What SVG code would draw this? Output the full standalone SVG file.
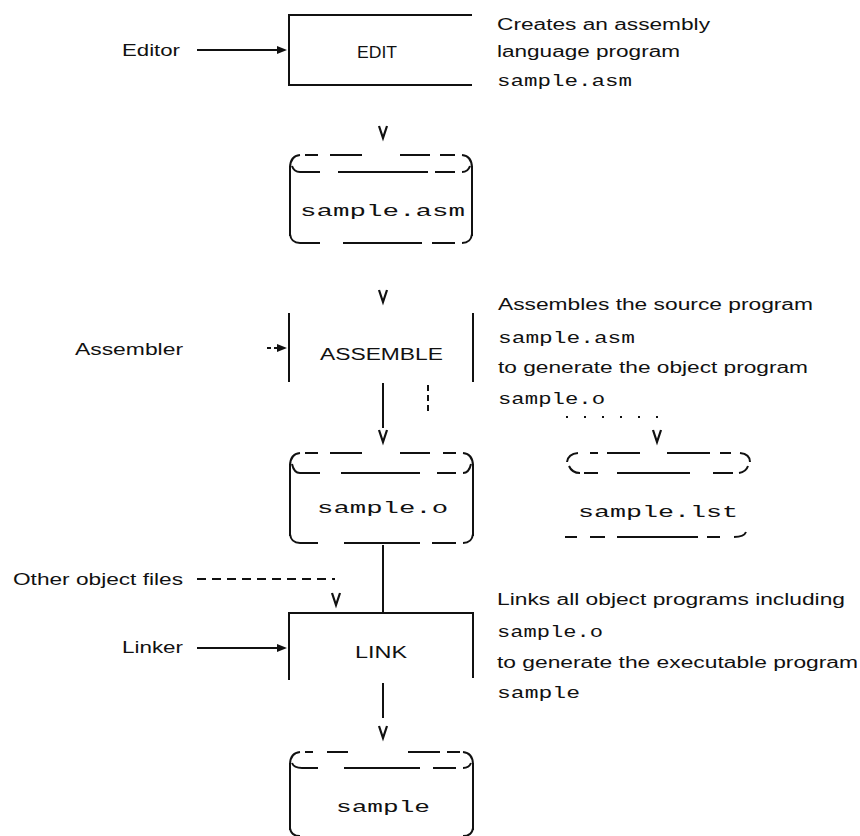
<svg xmlns="http://www.w3.org/2000/svg" width="860" height="836" viewBox="0 0 860 836">
<style>
.bg{fill:#fff}
.s{fill:none;stroke:#111;stroke-width:2}
.d{fill:none;stroke:#111;stroke-width:2}
.t{font-family:"Liberation Sans",Arial,sans-serif;font-size:16px;fill:#111}
.m{font-family:"Liberation Mono","DejaVu Sans Mono",monospace;font-size:16px;fill:#111}
.c{text-anchor:middle}
.v{fill:none;stroke:#111;stroke-width:2.2}
.ah{fill:#111}
</style>
<defs>
<path id="vmark" class="v" d="M-4,-7 L0,5 L4,-7"/>
<path id="rarrow" class="ah" d="M-10,-4 L0,0 L-10,4 Z"/>
</defs>
<rect class="bg" width="860" height="836"/>

<g id="connectors">
  <line class="s" x1="197" y1="50" x2="278" y2="50"/>
  <use href="#rarrow" x="287" y="50"/>
  <use href="#vmark" x="383" y="133"/>
  <use href="#vmark" x="383" y="297"/>
  <line class="s" x1="267" y1="348" x2="278" y2="348" stroke-dasharray="4 3"/>
  <use href="#rarrow" x="287" y="348"/>
  <line class="s" x1="383" y1="383" x2="383" y2="428"/>
  <use href="#vmark" x="383" y="437"/>
  <line class="s" x1="428" y1="385" x2="428" y2="412" stroke-dasharray="6 4"/>
  <line class="s" x1="566" y1="417" x2="660" y2="417" stroke-dasharray="2 16"/>
  <use href="#vmark" x="657" y="437"/>
  <line class="s" x1="383" y1="545" x2="383" y2="613"/>
  <line class="s" x1="197" y1="579" x2="335" y2="579" stroke-dasharray="9 6"/>
  <use href="#vmark" x="336" y="600"/>
  <line class="s" x1="197" y1="648" x2="278" y2="648"/>
  <use href="#rarrow" x="287" y="648"/>
  <line class="s" x1="383" y1="683" x2="383" y2="718"/>
  <use href="#vmark" x="383" y="733"/>
</g>

<g id="editor-label"><text class="t" x="122" y="56" textLength="58" lengthAdjust="spacingAndGlyphs">Editor</text></g>

<g id="edit">
  <path class="s" d="M472,15 H289 V85 H472"/>
  <text class="t" x="357" y="58" textLength="40" lengthAdjust="spacingAndGlyphs">EDIT</text>
</g>

<g id="edit-desc">
  <text class="t" x="497" y="30" textLength="213" lengthAdjust="spacingAndGlyphs">Creates an assembly</text>
  <text class="t" x="497" y="57" textLength="183" lengthAdjust="spacingAndGlyphs">language program</text>
  <text class="m" x="497" y="86" textLength="135" lengthAdjust="spacingAndGlyphs">sample.asm</text>
</g>

<g id="sample-asm">
  <path class="s" d="M290,168 Q290,156 300,155 M462,155 Q472,156 472,168"/>
  <path class="s" d="M305,155 H318 M330,155 H362 M400,155 H430 M440,155 H455"/>
  <path class="s" d="M292,166 Q294,172 300,172 H320 M338,172 H428 M435,172 H455 M462,172 Q468,172 470,166"/>
  <line class="s" x1="290" y1="166" x2="290" y2="236"/>
  <line class="s" x1="472" y1="166" x2="472" y2="236"/>
  <path class="s" d="M290,234 Q291,243 300,243 H320 M343,243 H422 M432,243 H455 M462,243 Q471,243 472,234"/>
  <text class="m" x="300" y="216" textLength="165" lengthAdjust="spacingAndGlyphs">sample.asm</text>
</g>

<g id="assembler-label"><text class="t" x="75" y="355" textLength="108" lengthAdjust="spacingAndGlyphs">Assembler</text></g>

<g id="assemble">
  <line class="s" x1="289" y1="313" x2="289" y2="382"/>
  <line class="s" x1="473" y1="313" x2="473" y2="382"/>
  <text class="t" x="320" y="360" textLength="123" lengthAdjust="spacingAndGlyphs">ASSEMBLE</text>
</g>

<g id="assemble-desc">
  <text class="t" x="498" y="310" textLength="315" lengthAdjust="spacingAndGlyphs">Assembles the source program</text>
  <text class="m" x="498" y="343" textLength="137" lengthAdjust="spacingAndGlyphs">sample.asm</text>
  <text class="t" x="498" y="373" textLength="310" lengthAdjust="spacingAndGlyphs">to generate the object program</text>
  <text class="m" x="498" y="404" textLength="107" lengthAdjust="spacingAndGlyphs">sample.o</text>
</g>

<g id="sample-o">
  <path class="s" d="M290,466 Q290,454 300,453 M463,453 Q473,454 473,466"/>
  <path class="s" d="M305,453 H318 M330,453 H362 M400,453 H430 M443,453 H456"/>
  <path class="s" d="M292,464 Q294,473 300,473 H320 M341,473 H420 M437,473 H456 M463,473 Q469,473 471,464"/>
  <line class="s" x1="290" y1="464" x2="290" y2="536"/>
  <line class="s" x1="473" y1="464" x2="473" y2="536"/>
  <path class="s" d="M290,534 Q291,543 300,543 H318 M344,543 H420 M432,543 H456 M463,543 Q472,543 473,534"/>
  <text class="m" x="317" y="513" textLength="131" lengthAdjust="spacingAndGlyphs">sample.o</text>
</g>

<g id="sample-lst">
  <path class="s" d="M567,462 Q568,454 578,453 M740,453 Q750,454 750,462"/>
  <path class="s" d="M590,453 H598 M607,453 H640 M667,453 H710 M720,453 H731"/>
  <path class="s" d="M569,466 Q572,473 580,473 M584,473 H598 M617,473 H690 M713,473 H733 M739,473 Q746,472 748,466"/>
  <path class="s" d="M565,537 H577 M590,537 H605 M617,537 H698 M707,537 H720 M734,537 Q744,537 746,532"/>
  <text class="m" x="578" y="517" textLength="160" lengthAdjust="spacingAndGlyphs">sample.lst</text>
</g>

<g id="other-label"><text class="t" x="13" y="585" textLength="170" lengthAdjust="spacingAndGlyphs">Other object files</text></g>

<g id="linker-label"><text class="t" x="122" y="653" textLength="61" lengthAdjust="spacingAndGlyphs">Linker</text></g>

<g id="link">
  <path class="s" d="M289,680 V613 H473 V678"/>
  <text class="t" x="355" y="658" textLength="52" lengthAdjust="spacingAndGlyphs">LINK</text>
</g>

<g id="link-desc">
  <text class="t" x="497" y="605" textLength="348" lengthAdjust="spacingAndGlyphs">Links all object programs including</text>
  <text class="m" x="497" y="637" textLength="106" lengthAdjust="spacingAndGlyphs">sample.o</text>
  <text class="t" x="497" y="668" textLength="361" lengthAdjust="spacingAndGlyphs">to generate the executable program</text>
  <text class="m" x="497" y="698" textLength="83" lengthAdjust="spacingAndGlyphs">sample</text>
</g>

<g id="sample">
  <path class="s" d="M290,765 Q290,753 300,752 M463,752 Q473,753 473,765"/>
  <path class="s" d="M305,752 H313 M327,752 H348 M408,752 H440 M447,752 H460"/>
  <path class="s" d="M292,763 Q294,768 302,768 H318 M344,768 H420 M433,768 H456 M463,768 Q469,768 471,763"/>
  <line class="s" x1="290" y1="763" x2="290" y2="830"/>
  <line class="s" x1="473" y1="763" x2="473" y2="830"/>
  <path class="s" d="M290,828 Q291,836 300,836 M463,836 Q472,836 473,828"/>
  <text class="m" x="336" y="812" textLength="94" lengthAdjust="spacingAndGlyphs">sample</text>
</g>
</svg>
